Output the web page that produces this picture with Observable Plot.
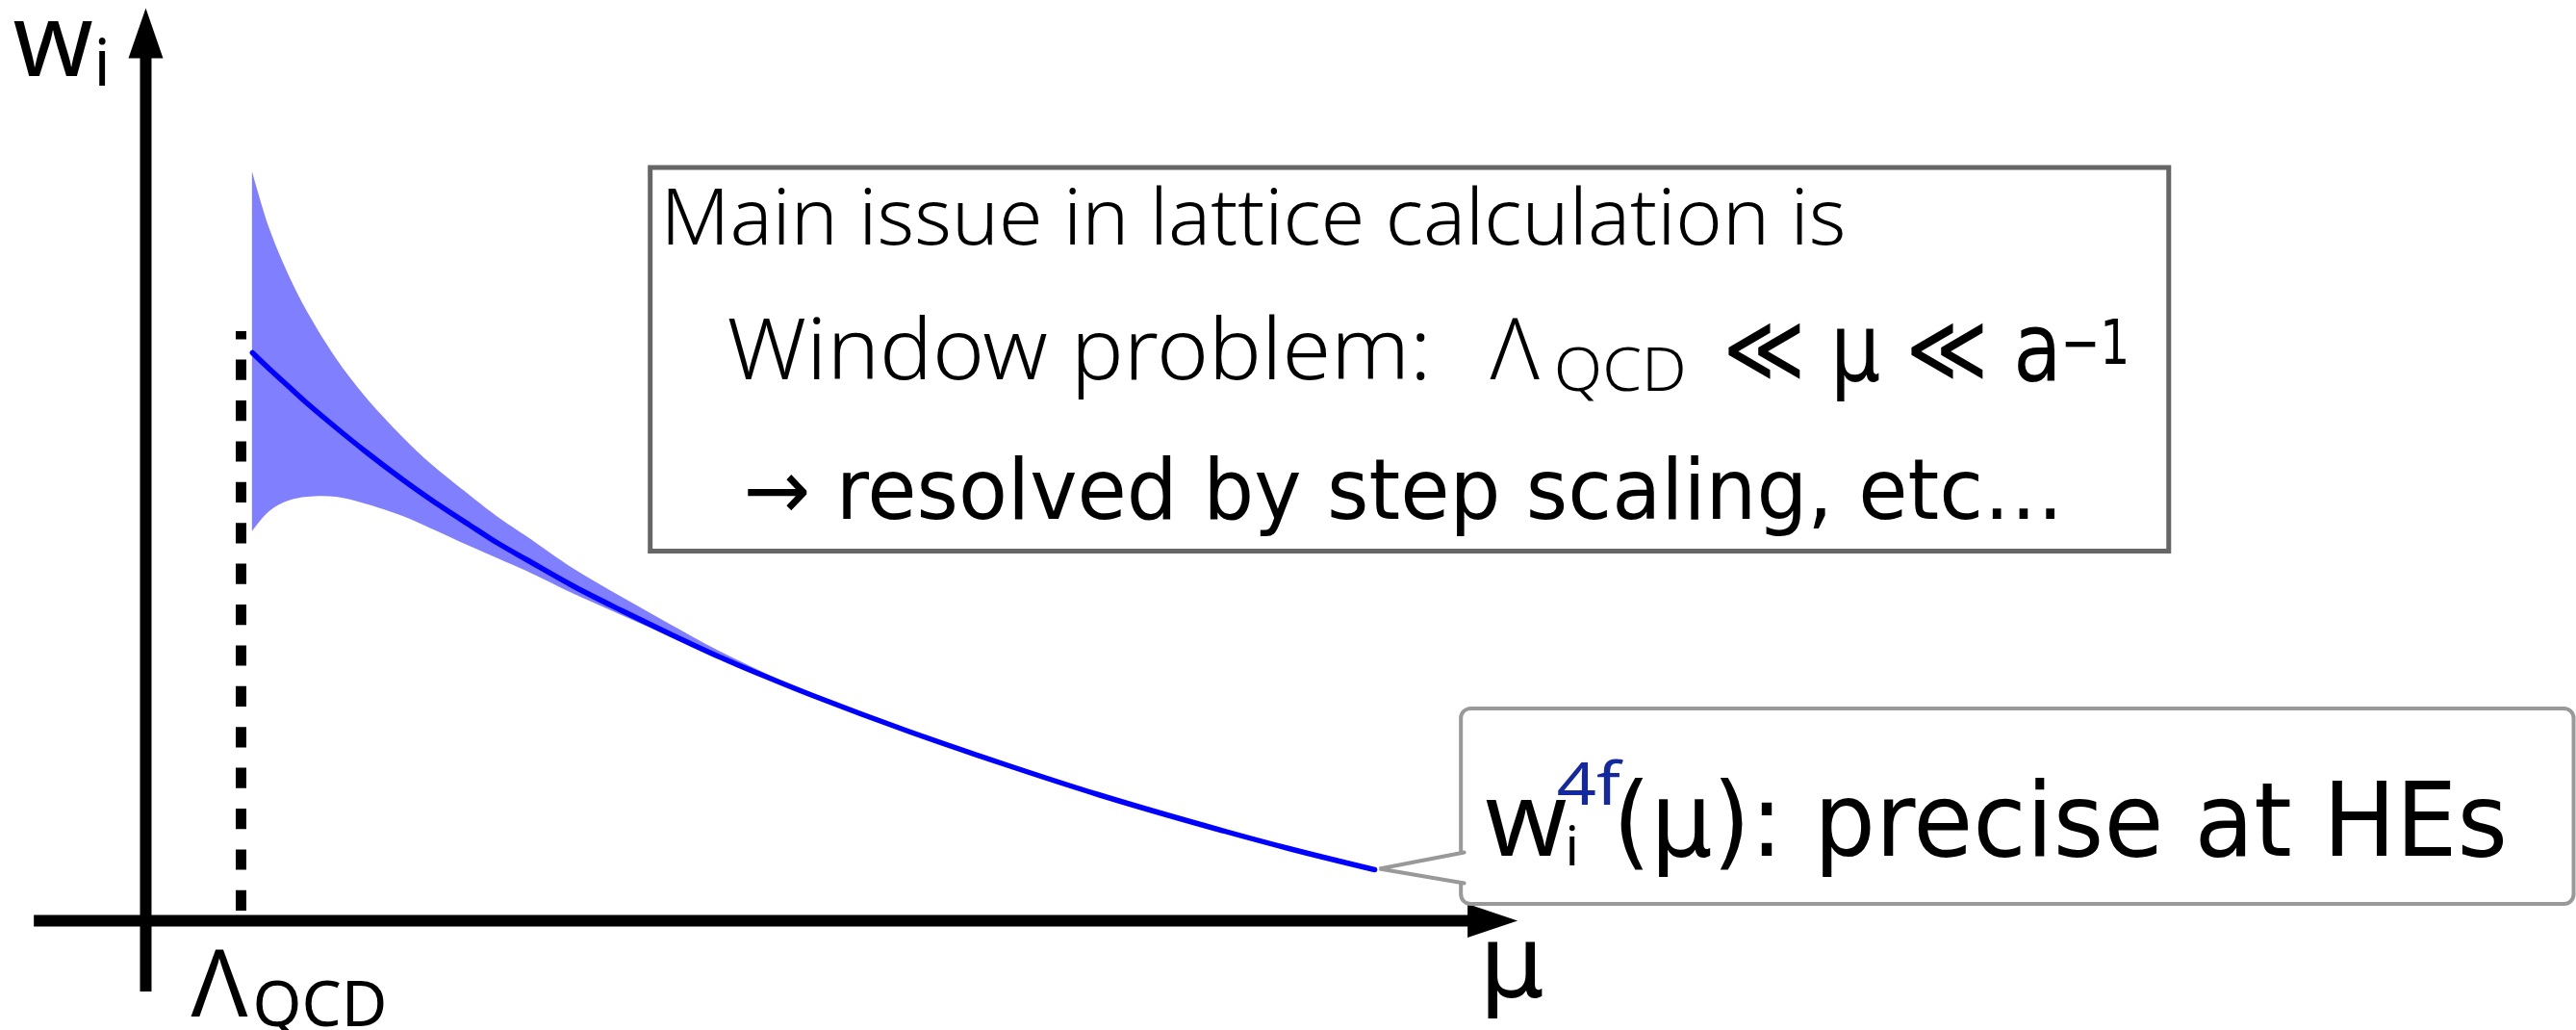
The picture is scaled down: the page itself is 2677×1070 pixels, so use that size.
<!DOCTYPE html>
<html>
<head>
<meta charset="utf-8">
<script src="https://cdn.jsdelivr.net/npm/d3@7"></script>
<script src="https://cdn.jsdelivr.net/npm/@observablehq/plot@0.6"></script>
<style>
  html, body { margin: 0; padding: 0; background: #fff; }
  svg { display: block; }
</style>
</head>
<body>
<script>
// Scale-dependent weight w_i(μ) with its uncertainty band (schematic units).
const mu       = [1.12, 1.3, 1.5, 1.7, 2.0, 2.3, 2.7, 3.0, 3.4, 3.7, 4.0, 4.5, 5.0, 5.5, 6.0, 6.5, 7.0, 8.0, 9.0, 10.0, 11.0, 12.0, 12.9];
const wCentral = [5.90, 5.73, 5.55, 5.37, 5.12, 4.88, 4.58, 4.37, 4.11, 3.92, 3.75, 3.47, 3.22, 2.98, 2.75, 2.54, 2.34, 1.97, 1.63, 1.31, 1.02, 0.75, 0.53];
// Error band: only resolved up to μ = 7, beyond that it collapses onto the line.
const wUpper   = [7.78, 7.19, 6.71, 6.32, 5.84, 5.45, 5.02, 4.74, 4.42, 4.19, 3.99, 3.65, 3.36, 3.08, 2.81, 2.57, 2.34];
const wLower   = [4.04, 4.25, 4.36, 4.40, 4.40, 4.33, 4.20, 4.07, 3.89, 3.76, 3.63, 3.39, 3.17, 2.95, 2.735, 2.535, 2.34];

// Λ_QCD marker position on the μ axis.
const lambdaQCD = 1.0;

// Text shown on the chart.
const axisLabels = ["w", "i", "μ", "Λ", "QCD"];
const noteLines  = ["Main issue in lattice calculation is", "Window problem:", "Λ", "QCD", "≪ μ ≪ a", "−1", "→ resolved by step scaling, etc…"];
const calloutText = ["w", "i", "4f", "(μ): precise at HEs"];

// ---- tables built from the arrays above ----
const line = mu.map((m, i) => ({mu: m, w: wCentral[i]}));
const band = wUpper.map((u, i) => ({mu: mu[i], hi: u, lo: wLower[i]}));

// ---- layout (data units of the two scales) ----
const frame = {x: [-1.525, 25.515], y: [-1.14, 9.56]};
const axes = {yShaft: [-0.74, 9.1], yTip: 9.48, xShaft: [-1.17, 13.95], xTip: 14.4};
const lambdaRule = [0.1, 6.12];
const noteBox = {x1: 5.30, x2: 21.24, y1: 3.835, y2: 7.82};
const calloutBox = {x1: 13.81, x2: 25.49, y1: 0.17, y2: 2.20};
const calloutWedge = [{x: 13.84, y: 0.71}, {x: 12.95, y: 0.54}, {x: 13.84, y: 0.39}];

const J = "'Noto Sans', 'DejaVu Sans', sans-serif";   // upright gothic face
const L = "'DejaVu Sans', sans-serif";                 // wide humanist face

const fragments = [
  {t: axisLabels[0], x: -1.394, y: 8.78, size: 106, font: J},
  {t: axisLabels[1], x: -0.545, y: 8.68, size: 67,  font: J},
  {t: noteLines[0],  x: 5.404,  y: 7.03, size: 81,  font: J, weight: 300, len: 1232},
  {t: noteLines[1],  x: 6.101,  y: 5.63, size: 88,  font: J, weight: 300, len: 732},
  {t: noteLines[2],  x: 14.11,  y: 5.63, size: 88,  font: J, weight: 300},
  {t: noteLines[3],  x: 14.78,  y: 5.51, size: 62,  font: J, weight: 300, len: 138},
  {t: noteLines[4],  x: 16.556, y: 5.61, size: 99,  font: L, len: 352},
  {t: noteLines[5],  x: 20.10,  y: 5.79, size: 64,  font: L, len: 72},
  {t: noteLines[6],  x: 6.273,  y: 4.18, size: 87,  font: L, len: 1372},
  {t: calloutText[0], x: 14.06, y: 0.68, size: 108, font: J},
  {t: calloutText[1], x: 14.90, y: 0.58, size: 56,  font: J},
  {t: calloutText[2], x: 14.81, y: 1.21, size: 62,  font: J, fill: "#1428a0", len: 66},
  {t: calloutText[3], x: 15.40, y: 0.68, size: 107, font: L, len: 930},
  {t: axisLabels[2], x: 14.0,   y: -0.79, size: 106, font: L},
  {t: axisLabels[3], x: 0.475,  y: -0.99, size: 97,  font: J},
  {t: axisLabels[4], x: 1.121,  y: -1.09, size: 66,  font: J, len: 140}
];

// Filled arrowheads, drawn with the tip at the anchor point.
const arrowUp = {draw(ctx) { ctx.moveTo(0, 0); ctx.lineTo(18, 52); ctx.lineTo(-18, 52); ctx.closePath(); }};
const arrowRight = {draw(ctx) { ctx.moveTo(0, 0); ctx.lineTo(-52, -17.5); ctx.lineTo(-52, 17.5); ctx.closePath(); }};

const svg = Plot.plot({
  width: 2677,
  height: 1070,
  margin: 0,
  style: {background: "#fff"},
  x: {domain: frame.x, axis: null},
  y: {domain: frame.y, axis: null},
  marks: [
    // uncertainty band
    Plot.areaY(band, {x: "mu", y1: "lo", y2: "hi", fill: "#8080ff", curve: "catmull-rom"}),
    // Λ_QCD marker
    Plot.ruleX([lambdaQCD], {y1: lambdaRule[0], y2: lambdaRule[1], stroke: "#000", strokeWidth: 11, strokeDasharray: "21.2,21.2"}),
    // axes with filled arrowheads
    Plot.ruleX([0], {y1: axes.yShaft[0], y2: axes.yShaft[1], stroke: "#000", strokeWidth: 12}),
    Plot.ruleY([0], {x1: axes.xShaft[0], x2: axes.xShaft[1], stroke: "#000", strokeWidth: 12}),
    Plot.dot([{x: 0, y: axes.yTip}], {x: "x", y: "y", symbol: arrowUp, fill: "#000", stroke: "none"}),
    Plot.dot([{x: axes.xTip, y: 0}], {x: "x", y: "y", symbol: arrowRight, fill: "#000", stroke: "none"}),
    // central value
    Plot.line(line, {x: "mu", y: "w", stroke: "#0000ff", strokeWidth: 5.5, curve: "catmull-rom"}),
    // annotation boxes
    Plot.rect([noteBox], {x1: "x1", x2: "x2", y1: "y1", y2: "y2", fill: "#fff", stroke: "#666", strokeWidth: 5}),
    Plot.rect([calloutBox], {x1: "x1", x2: "x2", y1: "y1", y2: "y2", rx: 10, fill: "#fff", stroke: "#999", strokeWidth: 4}),
    Plot.line(calloutWedge, {x: "x", y: "y", fill: "#fff", stroke: "#999", strokeWidth: 4, strokeLinejoin: "miter", curve: "linear"}),
    // text fragments (baseline-anchored)
    ...fragments.map(f => Plot.text([f], {
      x: "x", y: "y", text: "t",
      textAnchor: "start", lineAnchor: "bottom",
      fontSize: f.size, fontFamily: f.font, fontWeight: f.weight || 400,
      fill: f.fill || "#000"
    }))
  ]
});

// Fit the wide strings to their set widths.
svg.querySelectorAll('g[aria-label="text"] text').forEach((el, i) => {
  const f = fragments[i];
  if (f && f.len) {
    el.setAttribute("textLength", f.len);
    el.setAttribute("lengthAdjust", "spacingAndGlyphs");
  }
});

document.body.appendChild(svg);
</script>
</body>
</html>
